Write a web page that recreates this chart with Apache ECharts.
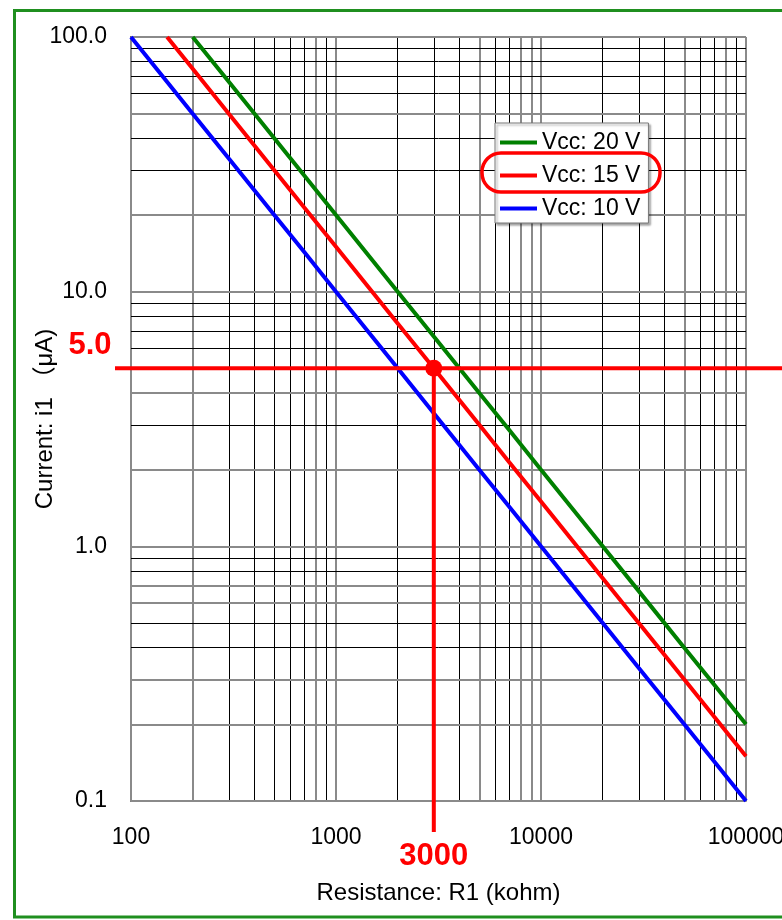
<!DOCTYPE html>
<html>
<head>
<meta charset="utf-8">
<script src="https://cdn.jsdelivr.net/npm/echarts@6/dist/echarts.min.js"></script>
<style>
html,body{margin:0;padding:0;background:#fff;}
#chart{width:782px;height:920px;}
</style>
</head>
<body>
<div id="chart"></div>
<script>
// ---- data ----
const seriesNames = ['Vcc: 20 V', 'Vcc: 15 V', 'Vcc: 10 V'];
const r20 = [200, 300, 500, 700, 1000, 2000, 3000, 5000, 7000, 10000, 20000, 30000, 50000, 70000, 100000];
const i20 = [100, 66.7, 40, 28.6, 20, 10, 6.67, 4, 2.86, 2, 1, 0.667, 0.4, 0.286, 0.2];
const r15 = [150, 200, 300, 500, 700, 1000, 2000, 3000, 5000, 7000, 10000, 20000, 30000, 50000, 70000, 100000];
const i15 = [100, 75, 50, 30, 21.4, 15, 7.5, 5, 3, 2.14, 1.5, 0.75, 0.5, 0.3, 0.214, 0.15];
const r10 = [100, 200, 300, 500, 700, 1000, 2000, 3000, 5000, 7000, 10000, 20000, 30000, 50000, 70000, 100000];
const i10 = [100, 50, 33.3, 20, 14.3, 10, 5, 3.33, 2, 1.43, 1, 0.5, 0.333, 0.2, 0.143, 0.1];
const markR = [3000];
const markI = [5];
const xGrid = [100,200,300,400,500,600,700,800,900,1000,2000,3000,4000,5000,6000,7000,8000,9000,10000,20000,30000,40000,50000,60000,70000,80000,90000,100000];
const yGrid = [0.1,0.2,0.3,0.4,0.5,0.6,0.7,0.8,0.9,1,2,3,4,5,6,7,8,9,10,20,30,40,50,60,70,80,90,100];
const xAxisTitle = 'Resistance: R1 (kohm)';
const yAxisTitle = 'Current: i1 （μA)';

// ---- style lookups (not data) ----
const grayX = [100, 200, 800, 1000, 5000, 8000, 9000, 10000, 50000, 80000, 100000];
const grayY = [100, 50, 20, 10, 4, 2, 1, 0.7, 0.6, 0.3, 0.2, 0.1];
const FONT = '"Liberation Sans", Arial, "Noto Sans CJK JP", sans-serif';

function gridStyle(v, grays) {
  return grays.indexOf(v) >= 0 ? {color: '#8a8a8a', width: 2, type: 'solid'} : {color: '#000', width: 1, type: 'solid'};
}
const gridLines = [];
xGrid.forEach(v => gridLines.push({xAxis: v, lineStyle: gridStyle(v, grayX)}));
yGrid.forEach(v => gridLines.push({yAxis: v, lineStyle: gridStyle(v, grayY)}));

function zip(a, b) { return a.map((v, i) => [v, b[i]]); }

const chart = echarts.init(document.getElementById('chart'), null, {renderer: 'canvas'});
const option = {
  backgroundColor: '#fff',
  animation: false,
  textStyle: {fontFamily: FONT},
  grid: {left: 131, right: 36, top: 37, bottom: 119, containLabel: false, outerBoundsMode: 'none'},
  xAxis: {
    type: 'log', logBase: 10, min: 100, max: 100000,
    name: xAxisTitle, nameLocation: 'middle', nameGap: 80, nameMoveOverlap: false,
    nameTextStyle: {fontSize: 24, color: '#000', fontFamily: FONT},
    axisLine: {show: true, lineStyle: {color: '#8a8a8a', width: 2}},
    axisTick: {show: false},
    splitLine: {show: false},
    minorSplitLine: {show: false},
    axisLabel: {fontSize: 23, color: '#000', margin: 25, fontFamily: FONT, formatter: v => String(Math.round(v))}
  },
  yAxis: {
    type: 'log', logBase: 10, min: 0.1, max: 100,
    name: yAxisTitle, nameLocation: 'middle', nameGap: 74, nameRotate: 90, nameMoveOverlap: false,
    nameTextStyle: {fontSize: 24, color: '#000', fontFamily: FONT},
    axisLine: {show: true, lineStyle: {color: '#333', width: 2}},
    axisTick: {show: true, inside: true, length: 7, lineStyle: {color: '#000', width: 2}},
    splitLine: {show: false},
    axisLabel: {fontSize: 23, color: '#000', margin: 24, fontFamily: FONT, formatter: v => Number(v).toFixed(1)}
  },
  legend: {
    orient: 'vertical', left: 495, top: 123, z: 50,
    data: seriesNames,
    icon: 'rect', itemWidth: 37, itemHeight: 4, itemGap: 10,
    padding: [8, 8, 3, 5],
    backgroundColor: '#fff', borderColor: '#777', borderWidth: 1,
    shadowColor: 'rgba(0,0,0,0.35)', shadowOffsetX: 2, shadowOffsetY: 2, shadowBlur: 2,
    textStyle: {fontSize: 23, color: '#000', fontFamily: FONT},
    selectedMode: false
  },
  series: [
    {
      name: 'grid', type: 'line', data: [[100, 0.1]], symbol: 'none', silent: true, z: 1,
      lineStyle: {opacity: 0},
      markLine: {silent: true, symbol: ['none', 'none'], label: {show: false}, animation: false, z: 1, data: gridLines}
    },
    {name: seriesNames[0], type: 'line', data: zip(r20, i20), symbol: 'none', color: '#008000', lineStyle: {width: 4, color: '#008000'}, z: 3},
    {name: seriesNames[1], type: 'line', data: zip(r15, i15), symbol: 'none', color: '#ff0000', lineStyle: {width: 4, color: '#ff0000'}, z: 3},
    {name: seriesNames[2], type: 'line', data: zip(r10, i10), symbol: 'none', color: '#0000ff', lineStyle: {width: 4, color: '#0000ff'}, z: 3},
    {
      name: 'marker', type: 'custom', clip: false, z: 5, silent: true,
      data: zip(markR, markI),
      renderItem: function (params, api) {
        const xv = api.value(0), yv = api.value(1);
        const p = api.coord([xv, yv]);
        const cs = params.coordSys;
        const left = cs.x - 16, right = cs.x + cs.width + 40, bottom = cs.y + cs.height + 31;
        const red = '#ff0000';
        return {
          type: 'group',
          children: [
            {type: 'line', shape: {x1: left, y1: p[1], x2: right, y2: p[1]}, style: {stroke: red, lineWidth: 4}},
            {type: 'line', shape: {x1: p[0], y1: p[1], x2: p[0], y2: bottom}, style: {stroke: red, lineWidth: 4}},
            {type: 'circle', shape: {cx: p[0], cy: p[1], r: 8.5}, style: {fill: red}},
            {type: 'text', x: cs.x - 41, y: p[1] - 23, style: {text: Number(yv).toFixed(1), fill: red, font: 'bold 31px ' + FONT, align: 'center', verticalAlign: 'middle'}},
            {type: 'text', x: p[0], y: bottom + 24, style: {text: String(xv), fill: red, font: 'bold 31px ' + FONT, align: 'center', verticalAlign: 'middle'}}
          ]
        };
      }
    }
  ],
  graphic: [
    {type: 'rect', z: 100, shape: {x: 14.5, y: 10.5, width: 800, height: 906.5}, style: {fill: 'none', stroke: '#1f8f1f', lineWidth: 3}},
    {type: 'rect', z: 100, shape: {x: 482, y: 153, width: 178, height: 39, r: 19}, style: {fill: 'none', stroke: '#ff0000', lineWidth: 3.5}}
  ]
};
chart.setOption(option);
</script>
</body>
</html>
